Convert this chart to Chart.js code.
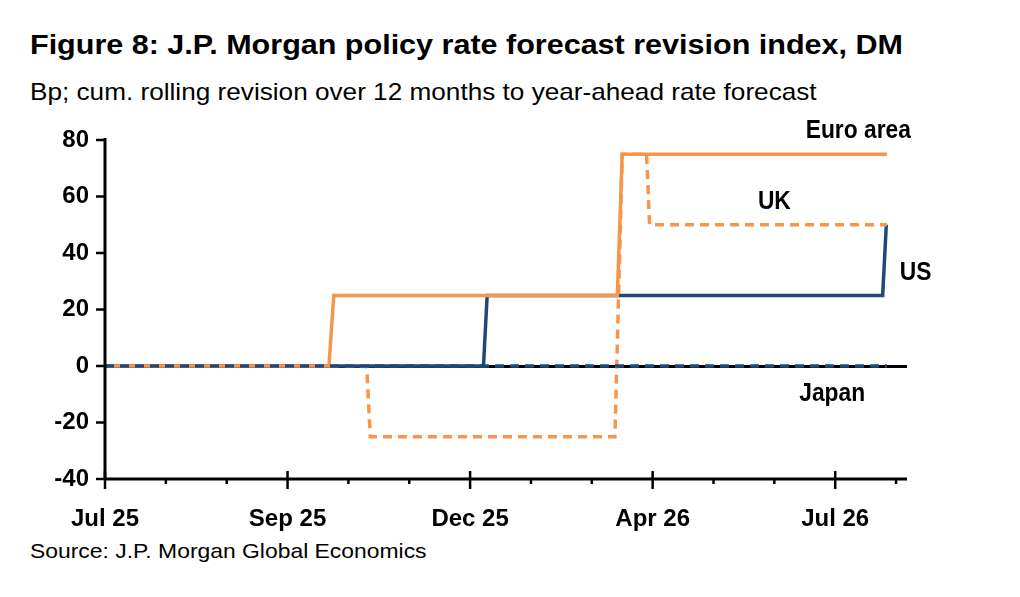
<!DOCTYPE html>
<html><head><meta charset="utf-8">
<script src="https://cdn.jsdelivr.net/npm/chart.js@4"></script>
<style>
body{margin:0;background:#fff;width:1020px;height:597px;overflow:hidden;position:relative;font-family:"Liberation Sans",Arial,sans-serif}
#t,#s,#src{transform-origin:0 0;white-space:nowrap;position:absolute;color:#000}
#t{left:30px;top:29px;font-size:28px;font-weight:bold;transform:scaleX(1.09)}
#s{left:30px;top:78px;font-size:24px;transform:scaleX(1.09)}
#src{left:30px;top:539px;font-size:21px;transform:scaleX(1.09)}
#c{position:absolute;left:0;top:0}
</style></head><body>
<div id="t">Figure 8: J.P. Morgan policy rate forecast revision index, DM</div>
<div id="s">Bp; cum. rolling revision over 12 months to year-ahead rate forecast</div>
<div id="src">Source: J.P. Morgan Global Economics</div>
<canvas id="c" width="1020" height="597"></canvas>
<script>
const tickLabels={0:"Jul 25",3:"Sep 25",6:"Dec 25",9:"Apr 26",12:"Jul 26"};
const euroX=[0,3.68,3.76,8.42,8.5,12.85];
const euroY=[0,0,25,25,75,75];
const usX=[0,6.22,6.28,12.78,12.84];
const usY=[0,0,25,25,50];
const ukX=[0,4.3,4.36,8.38,8.5,8.9,8.95,12.85];
const ukY=[0,0,-25,-25,75,75,50,50];
const jpX=[0,12.85];
const jpY=[0,0];
const seriesLabels=[["Euro area",12.38,83],["UK",11.0,58],["US",13.32,33],["Japan",11.95,-10]];
const pts=(xs,ys)=>xs.map((x,i)=>({x,y:ys[i]}));
const ORANGE="#f7964a",NAVY="#1f497d";
const FONT='"Liberation Sans",Arial';
const deco={id:"deco",afterDraw(ch){
  const c=ch.ctx,x=ch.scales.x,y=ch.scales.y,b=ch.chartArea.bottom;
  c.save();c.strokeStyle="#000";c.lineWidth=3;
  c.beginPath();c.moveTo(x.left,b);c.lineTo(x.right,b);c.stroke();
  c.beginPath();c.moveTo(x.left,ch.chartArea.top-2);c.lineTo(x.left,b);c.stroke();
  c.lineWidth=2.5;
  for(let i=0;i<=13;i++){const px=x.getPixelForValue(i);const L=i%3===0?10:5;c.beginPath();c.moveTo(px,b-(i%3===0?8:0));c.lineTo(px,b+L);c.stroke();}
  for(let v=-40;v<=80;v+=20){const py=y.getPixelForValue(v);c.beginPath();c.moveTo(x.left-9,py);c.lineTo(x.left,py);c.stroke();}
  c.fillStyle="#000";c.font='bold 24px '+FONT;c.textAlign="center";c.textBaseline="middle";
  seriesLabels.forEach(([t,vx,vy])=>{c.save();c.translate(x.getPixelForValue(vx),y.getPixelForValue(vy));c.scale(0.95,1.05);c.fillText(t,0,0);c.restore();});
  c.restore();}};
new Chart(document.getElementById("c"),{type:"line",
 data:{datasets:[
  {label:"Japan",data:pts(jpX,jpY),borderColor:NAVY,borderWidth:3.5,borderDash:[9,6],pointRadius:0,order:0},
  {label:"US",data:pts(usX,usY),borderColor:NAVY,borderWidth:3.5,pointRadius:0,order:3},
  {label:"UK",data:pts(ukX,ukY),borderColor:ORANGE,borderWidth:3.5,borderDash:[9,6],pointRadius:0,order:2},
  {label:"Euro area",data:pts(euroX,euroY),borderColor:ORANGE,borderWidth:3.5,pointRadius:0,order:1}
 ]},
 options:{responsive:false,animation:false,layout:{padding:{top:140,right:113,left:0,bottom:0}},
  plugins:{legend:{display:false},tooltip:{enabled:false}},
  scales:{
   x:{type:"linear",min:0,max:13.18,afterFit(s){s.height=118;},
     grid:{display:false,drawTicks:false},border:{display:false},
     ticks:{stepSize:1,autoSkip:false,maxRotation:0,padding:26,color:"#000",font:{family:FONT,size:24,weight:"bold"},callback:v=>tickLabels[v]||""}},
   y:{min:-40,max:80,afterFit(s){s.width=105;},
     grid:{drawTicks:false,color:c=>c.tick.value===0?"#000":"rgba(0,0,0,0)",lineWidth:c=>c.tick.value===0?3:0},border:{display:false},
     ticks:{stepSize:20,padding:16,color:"#000",font:{family:FONT,size:24,weight:"bold"}}}
  }},
 plugins:[deco]});
</script></body></html>
